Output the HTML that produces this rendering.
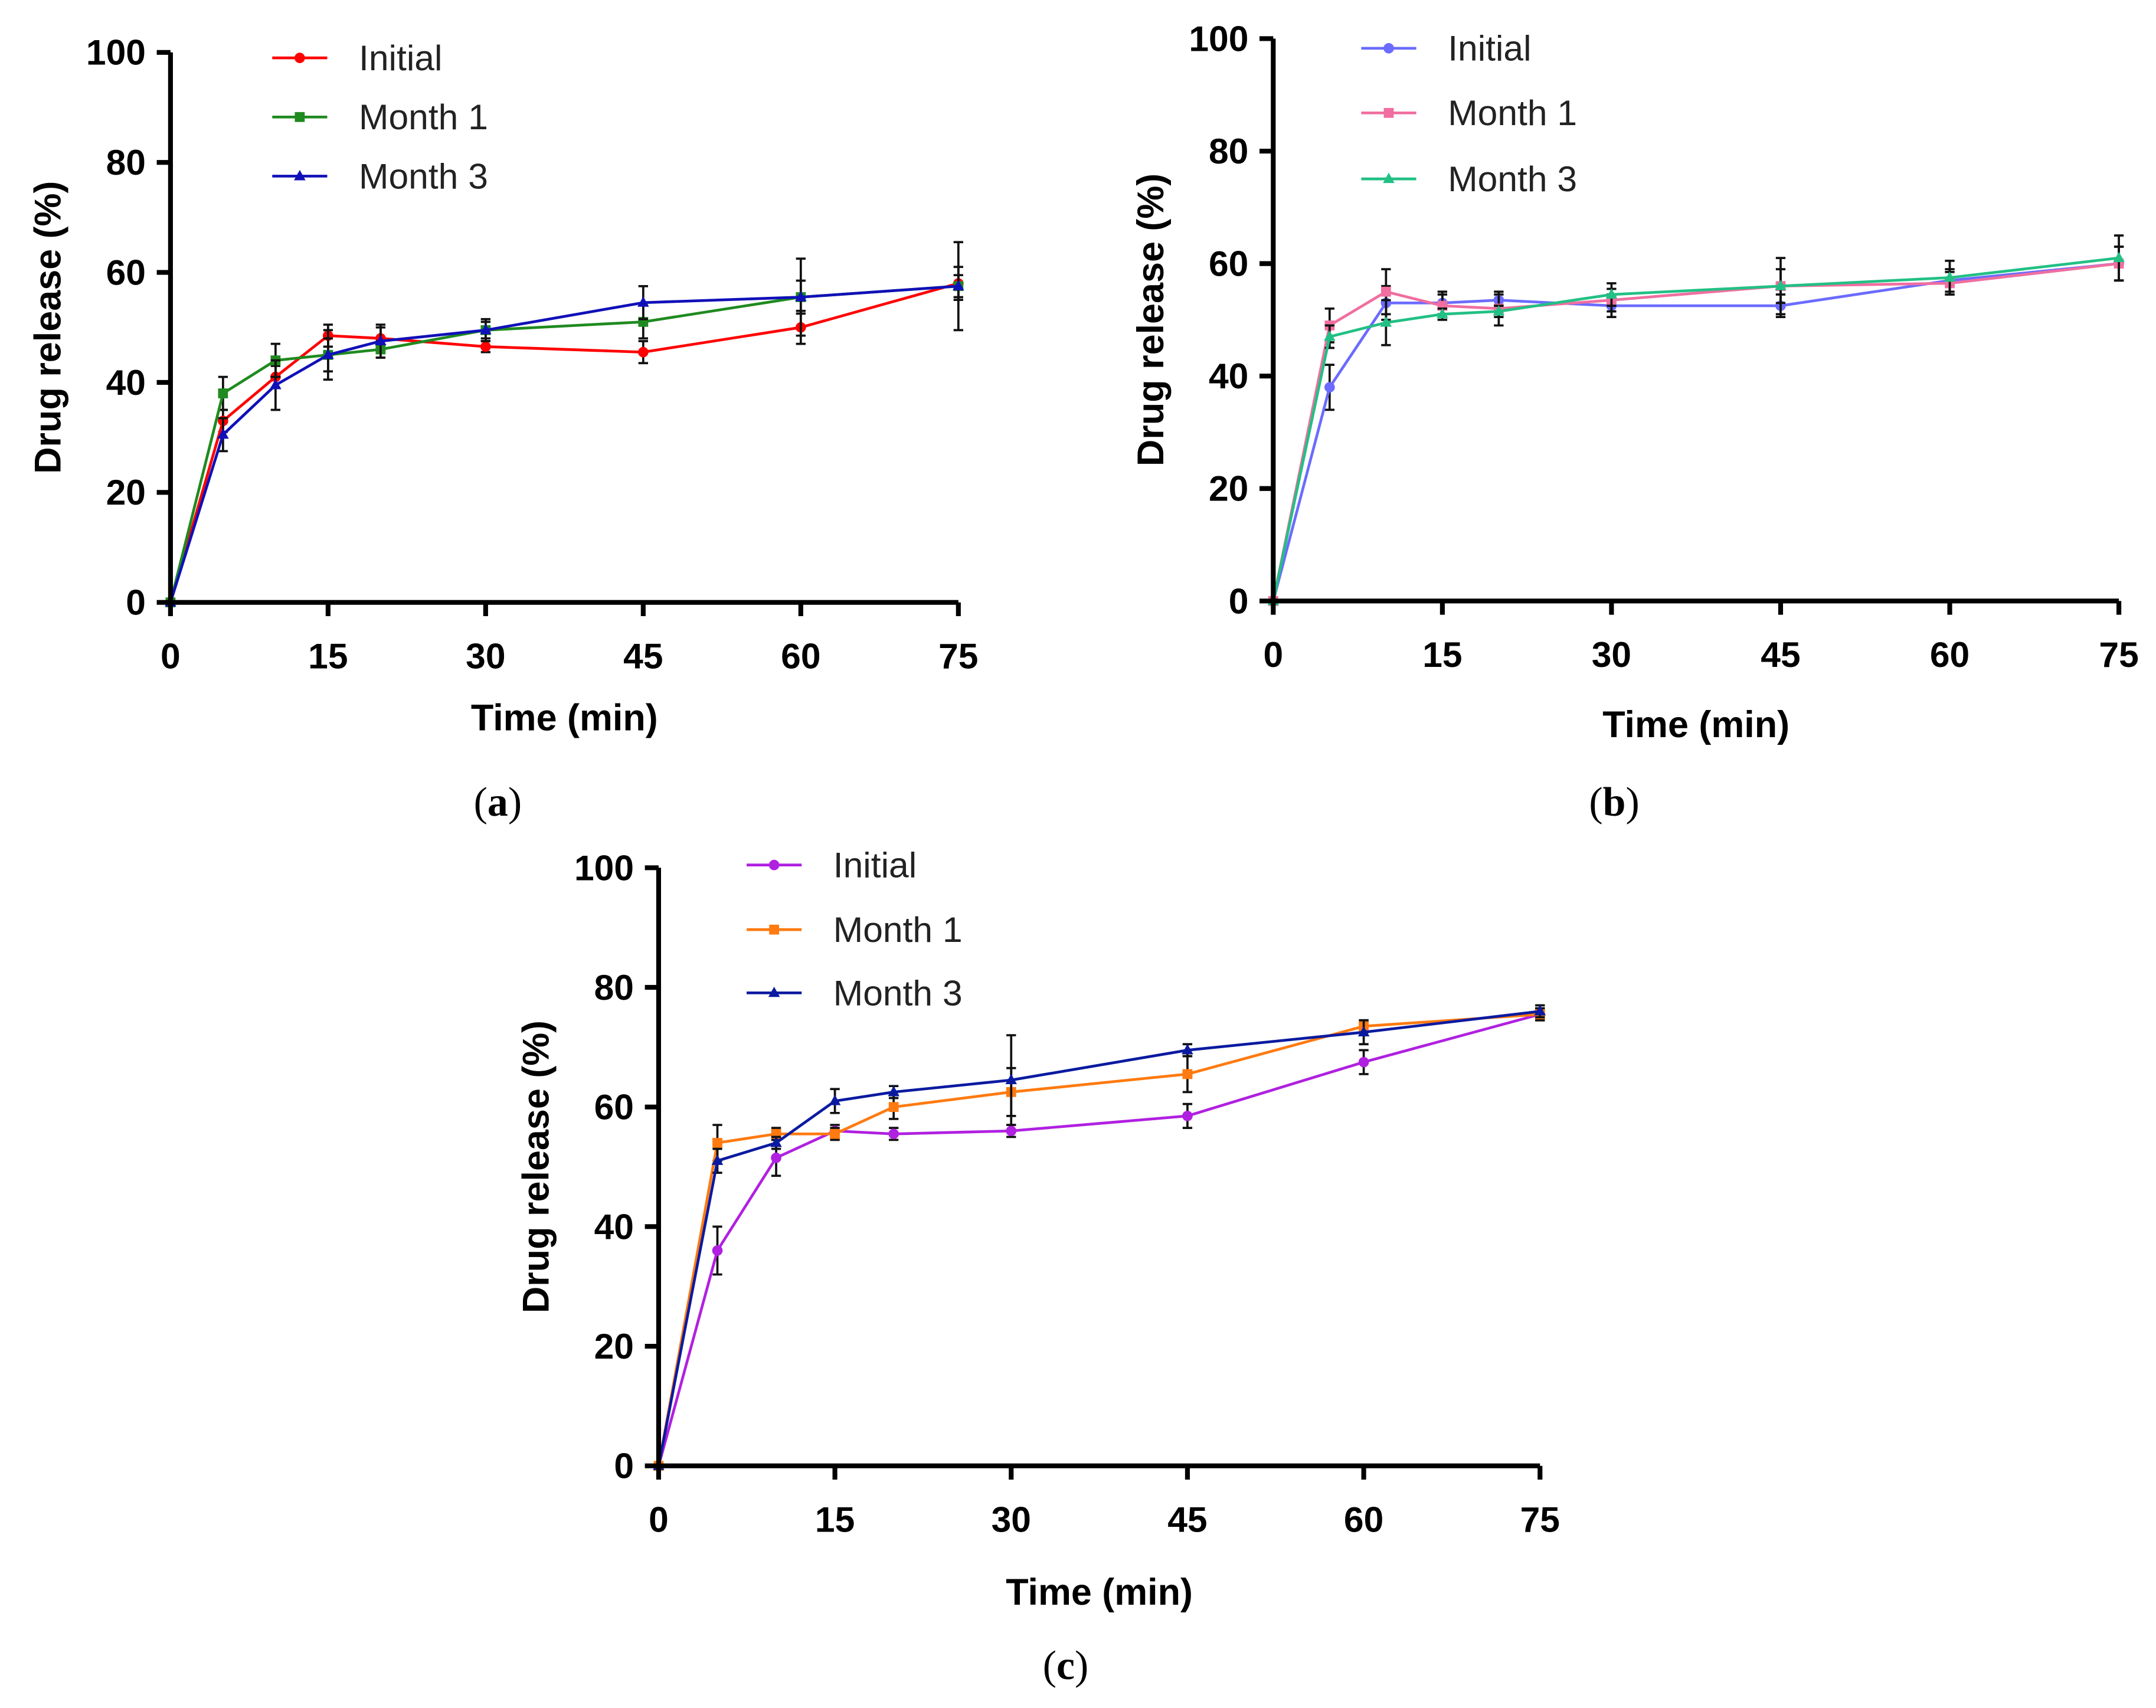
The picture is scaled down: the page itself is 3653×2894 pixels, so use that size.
<!DOCTYPE html>
<html><head><meta charset="utf-8"><style>
html,body{margin:0;padding:0;background:#fff}
svg{display:block}
text{font-family:"Liberation Sans",Arial,sans-serif}
</style></head><body>
<svg id="fig" width="3653" height="2894" viewBox="0 0 1568 1242" xmlns="http://www.w3.org/2000/svg">
<rect width="1568" height="1242" fill="#fff"/>
</svg>
<script>
const times=[0,5,10,15,20,30,45,60,75];
const xTicks=[0,15,30,45,60,75];
const yTicks=[0,20,40,60,80,100];
const seriesNames=["Initial","Month 1","Month 3"];
const aInitial=[0,33,41,48.5,48,46.5,45.5,50,58];
const aInitialErr=[0,2,2,2,2,1,2,3,3];
const aMonth1=[0,38,44,45,46,49.5,51,55.5,57.5];
const aMonth1Err=[0,3,3,4.5,1.5,2,3,7,8];
const aMonth3=[0,30.5,39.5,45,47.5,49.5,54.5,55.5,57.5];
const aMonth3Err=[0,3,4.5,3,3,1.5,3,3,2];
const bInitial=[0,38,53,53,53.5,52.5,52.5,57,60];
const bInitialErr=[0,4,3,2,1,2,2,2,3];
const bMonth1=[0,49,55,52.5,52,53.5,56,56.5,60];
const bMonth1Err=[0,3,4,2,3,2,5,2,3];
const bMonth3=[0,47,49.5,51,51.5,54.5,56,57.5,61];
const bMonth3Err=[0,2,4,1,1,2,3,3,4];
const cInitial=[0,36,51.5,56,55.5,56,58.5,67.5,75.5];
const cInitialErr=[0,4,3,1,1,1,2,2,1];
const cMonth1=[0,54,55.5,55.5,60,62.5,65.5,73.5,75.5];
const cMonth1Err=[0,3,1,1,2,4,3,1,1];
const cMonth3=[0,51,54,61,62.5,64.5,69.5,72.5,76];
const cMonth3Err=[0,2,1,2,1,7.5,1,2,1];

const NS="http://www.w3.org/2000/svg";
const svg=document.getElementById('fig');
function el(tag,attrs,parent,txt){const e=document.createElementNS(NS,tag);for(const k in attrs)e.setAttribute(k,attrs[k]);if(txt!==undefined)e.textContent=txt;(parent||svg).appendChild(e);return e;}

const panels=[
 {id:'a',x0:124,x1:697,y0:438,y1:38,cap:'a',capX:362,capY:593,titleY:531,leg:{x:198,ys:[42,85,128]},
  colors:['#ff0000','#1f8a1f','#1010b8'],data:[[aInitial,aInitialErr],[aMonth1,aMonth1Err],[aMonth3,aMonth3Err]]},
 {id:'b',x0:926,x1:1541,y0:437,y1:28,cap:'b',capX:1174,capY:593,titleY:536,leg:{x:990,ys:[35,82,130]},
  colors:['#6b6bff','#f06ea0','#22c084'],data:[[bInitial,bInitialErr],[bMonth1,bMonth1Err],[bMonth3,bMonth3Err]]},
 {id:'c',x0:479,x1:1120,y0:1066,y1:631,cap:'c',capX:775,capY:1221,titleY:1167,leg:{x:543,ys:[629,676,722]},
  colors:['#b020e0','#ff7a10','#0a1aa0'],data:[[cInitial,cInitialErr],[cMonth1,cMonth1Err],[cMonth3,cMonth3Err]]}
];

function marker(g,shape,x,y,c){
  if(shape===0){const m=el('circle',{cx:x,cy:y,r:3.8,fill:c},g);}
  else if(shape===1){const m=el('rect',{x:x-3.6,y:y-3.6,width:7.2,height:7.2,fill:c},g);}
  else {const m=el('polygon',{points:`${x},${y-4.5} ${x-4.2},${y+3} ${x+4.2},${y+3}`,fill:c},g);}
}

panels.forEach(p=>{
  const g=el('g',{});
  
  
  const sx=v=>p.x0+(p.x1-p.x0)*v/75;
  const sy=v=>p.y0+(p.y1-p.y0)*v/100;
  p.data.forEach((d,si)=>{
    const vals=d[0],errs=d[1],c=p.colors[si];
    const sg=el('g',{},g);
    
    
    times.forEach((t,i)=>{
      if(!errs[i])return;
      const x=sx(t),ya=sy(vals[i]+errs[i]),yb=sy(vals[i]-errs[i]);
      const eb=el('path',{d:`M${x},${ya}V${yb}M${x-3.5},${ya}H${x+3.5}M${x-3.5},${yb}H${x+3.5}`,stroke:'#111',"stroke-width":1.6,fill:'none'},sg);
      
      
    });
    const line=el('polyline',{points:times.map((t,i)=>sx(t)+','+sy(vals[i])).join(' '),fill:'none',stroke:c,"stroke-width":2},sg);
    
    
    times.forEach((t,i)=>marker(sg,si,sx(t),sy(vals[i]),c));
    const ly=p.leg.ys[si];
    const lg=el('g',{},g);
    
    
    el('line',{x1:p.leg.x,x2:p.leg.x+40,y1:ly,y2:ly,stroke:c,"stroke-width":2},lg);
    marker(lg,si,p.leg.x+20,ly,c);
    el('text',{x:p.leg.x+63,y:ly+9,"font-size":26,fill:'#222'},lg,seriesNames[si]);
  });
  const ax=el('path',{d:`M${p.x0},${p.y1}V${p.y0}H${p.x1}`,stroke:'#000',"stroke-width":3.5,fill:'none'},g);
  
  
  yTicks.forEach(v=>{
    el('line',{x1:p.x0-10,x2:p.x0,y1:sy(v),y2:sy(v),stroke:'#000',"stroke-width":3.5},g);
    const t=el('text',{x:p.x0-18,y:sy(v)+9,"font-size":26,"font-weight":'bold',"text-anchor":'end'},g,v);
    
    
  });
  xTicks.forEach(v=>{
    el('line',{x1:sx(v),x2:sx(v),y1:p.y0,y2:p.y0+10,stroke:'#000',"stroke-width":3.5},g);
    const t=el('text',{x:sx(v),y:p.y0+48,"font-size":26,"font-weight":'bold',"text-anchor":'middle'},g,v);
    
    
  });
  const xt=el('text',{x:(p.x0+p.x1)/2,y:p.titleY,"font-size":27,"font-weight":'bold',"text-anchor":'middle'},g,'Time (min)');
  
  
  const cy=(p.y0+p.y1)/2, cx=p.x0-80;
  const yt=el('text',{x:cx,y:cy,"font-size":27,"font-weight":'bold',"text-anchor":'middle',transform:`rotate(-90 ${cx} ${cy})`},g,'Drug release (%)');
  
  
  const cap=el('text',{x:p.capX,y:p.capY,"font-size":30,"text-anchor":'middle',style:'font-family:"Liberation Serif",serif'},g);
  
  
  el('tspan',{},cap,'(');
  el('tspan',{"font-weight":'bold'},cap,p.cap);
  el('tspan',{},cap,')');
});
</script>
</body></html>
